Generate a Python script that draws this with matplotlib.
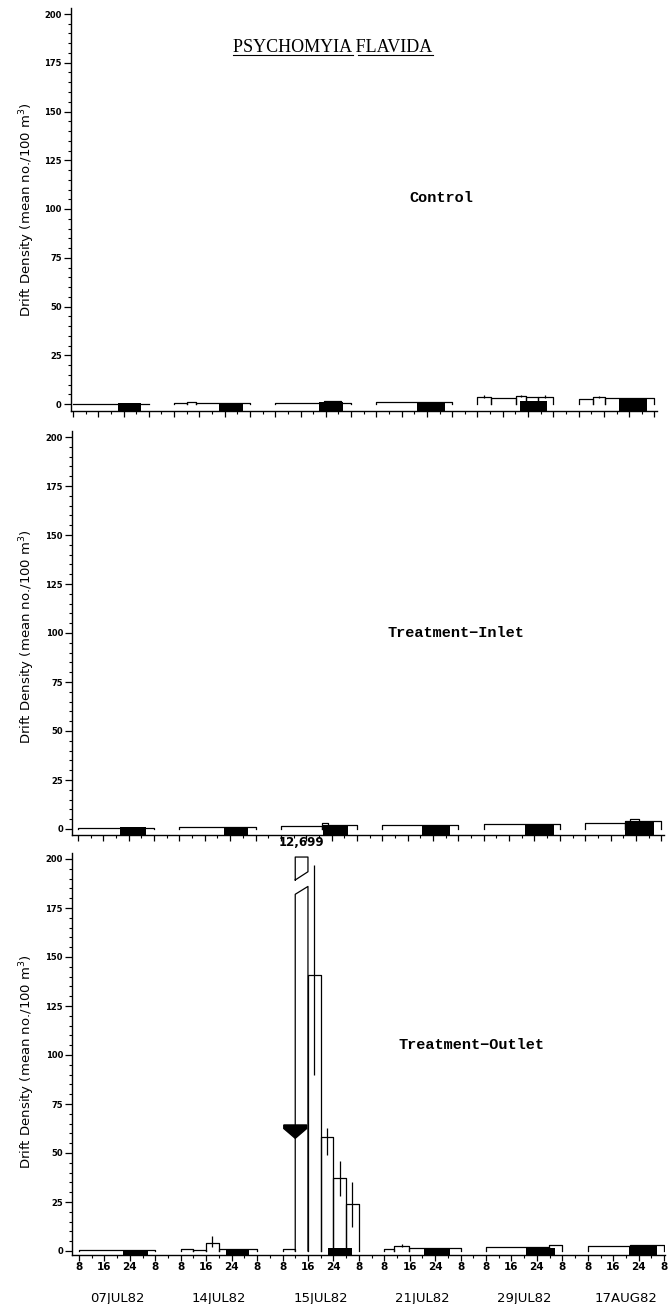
import matplotlib
matplotlib.use("Agg")
import matplotlib.pyplot as plt
from matplotlib.patches import Polygon
from matplotlib.lines import Line2D
from matplotlib.ticker import FixedLocator, MultipleLocator, NullFormatter

W, H = 670, 1304

DATES = ["07JUL82", "14JUL82", "15JUL82", "21JUL82", "29JUL82", "17AUG82"]
BLOCK_SPAN = 32            # 24 h sampled (08:00 -> 08:00) + 8 h gap on the axis
HOUR_TICKS = [0, 8, 16, 24]
HOUR_LABELS = ["8", "16", "24", "8"]
YMAX = 200

# ── step intervals (hours after 08:00) and mean drift density ─────────────
CONTROL_EDGES = [[0, 24], [0, 4, 7, 24], [0, 15.5, 20.8, 24], [0, 24],
                 [0, 4.4, 12.3, 15.5, 19, 24], [0, 4.5, 8.5, 24]]
CONTROL_VALUES = [[0.2], [0.6, 1.0, 0.6], [0.7, 1.7, 0.7], [1.0],
                  [3.8, 2.9, 4.1, 3.4, 3.8], [2.4, 3.4, 2.9]]
CONTROL_NIGHT = [(14.2, 21.5, 0.3), (14.2, 21.8, 0.4), (14.0, 21.5, 1.0),
                 (13.0, 21.8, 1.2), (13.3, 22.0, 1.7), (12.7, 21.8, 2.9)]
CONTROL_ERR = [(4, 2.2, 3.2, 4.4), (4, 13.9, 3.6, 4.6), (4, 21.4, 3.2, 4.4),
               (5, 6.5, 2.9, 3.9)]

INLET_EDGES = [[0, 24], [0, 24], [0, 13, 15, 24], [0, 24], [0, 24],
               [0, 12.5, 14, 17, 24]]
INLET_VALUES = [[0.3], [1.2], [1.6, 3.0, 2.0], [2.2], [2.8],
                [3.2, 4.0, 5.0, 4.0]]
INLET_NIGHT = [(13.4, 21.3, 0.8), (13.9, 21.5, 1.2), (13.2, 21.1, 2.0),
               (12.6, 21.5, 2.0), (12.9, 22.0, 2.8), (12.5, 21.8, 4.0)]
INLET_ERR = []

OUTLET_EDGES = [[0, 24], [0, 3.8, 7.8, 12, 24], [0, 4, 8, 12, 16, 20, 24],
                [0, 3, 7.8, 24], [0, 19.8, 24], [0, 13.2, 24]]
OUTLET_VALUES = [[0.3], [1.2, 0.7, 4.3, 1.2], [1.2, 12699, 141, 58, 37, 24],
                 [1.2, 2.6, 1.5], [2.0, 2.9], [2.4, 2.9]]
OUTLET_NIGHT = [(13.8, 21.7, 0.3), (14.1, 21.5, 0.7), (14.2, 21.7, 1.5),
                (12.4, 20.8, 1.5), (12.5, 21.7, 1.7), (13.0, 21.7, 2.4)]
OUTLET_ERR = [(1, 9.9, 2.0, 7.5), (2, 10, 90, 197), (2, 14, 49, 63),
              (2, 18, 28, 46), (2, 22, 12, 35), (3, 5.5, 1.8, 3.4)]
OUTLET_ARROW = (2, 4.0, 57.5)   # block, hour, level of the treatment arrow

PANELS = [
    ("Control", CONTROL_EDGES, CONTROL_VALUES, CONTROL_NIGHT, CONTROL_ERR, None),
    ("Treatment\u2212Inlet", INLET_EDGES, INLET_VALUES, INLET_NIGHT, INLET_ERR, None),
    ("Treatment\u2212Outlet", OUTLET_EDGES, OUTLET_VALUES, OUTLET_NIGHT, OUTLET_ERR, OUTLET_ARROW),
]

# ── pixel geometry of the three scanned panels ───────────────────────────
# y0 px, y200 px, ylim bottom, hour-0 px, px per hour, spine px, right px
GEOM = [
    (404, 14, -3.8, 73, 3.16, 70.7, 657),
    (829, 437, -3.0, 78, 3.17, 72, 664),
    (1251, 859, -2.2, 79, 3.18, 72, 665),
]
LABEL_POS = [(441, 198), (456, 633), (472, 1045)]
YLABEL_POS = [(27, 210), (27, 637), (27, 1062)]
YTOP = 203

fig = plt.figure(figsize=(W / 100, H / 100), dpi=100)
fig.patch.set_facecolor("white")

axes = []
for k, (name, edges, values, night, errs, arrow) in enumerate(PANELS):
    y0, y200, ybot, h0, pph, left, right = GEOM[k]
    ppu = (y0 - y200) / YMAX
    top_px = y200 - (YTOP - YMAX) * ppu
    bot_px = y0 - ybot * ppu
    ax = fig.add_axes([left / W, 1 - bot_px / H, (right - left) / W, (bot_px - top_px) / H])
    ax.set_xlim((left - h0) / pph, (right - h0) / pph)
    ax.set_ylim(ybot, YTOP)

    for b in range(len(DATES)):
        off = b * BLOCK_SPAN
        # night period (filled)
        ns, ne, ntop = night[b]
        ax.bar(off + ns, ntop - ybot, bottom=ybot, width=ne - ns, align="edge",
               color="black", linewidth=0, zorder=2)
        # open histogram of drift density
        e = edges[b]
        for i, v in enumerate(values[b]):
            x0, x1 = off + e[i], off + e[i + 1]
            if v > YMAX:
                ax.plot([x0, x0, x1, x1], [0, 182, 186, 0], color="black", lw=0.9, zorder=3)
                ax.plot([x0, x0, x1, x1, x0], [189.3, 201, 201, 193.5, 189.3],
                        color="black", lw=0.9, zorder=3, clip_on=False)
                ax.text((x0 + x1) / 2, 205, f"{v:,}", ha="center", va="bottom",
                        fontsize=8.5, fontweight="bold", clip_on=False)
            else:
                ax.plot([x0, x0, x1, x1], [0, v, v, 0], color="black", lw=0.9, zorder=3)

    for b, hr, lo, hi in errs:
        ax.vlines(b * BLOCK_SPAN + hr, lo, hi, color="black", lw=0.9, zorder=3)

    if arrow is not None:
        b, hr, lvl = arrow
        xc = b * BLOCK_SPAN + hr
        ax.add_patch(Polygon([(xc - 3.6, lvl + 6.8), (xc + 3.6, lvl + 6.8), (xc + 3.6, lvl + 5.0),
                              (xc, lvl), (xc - 3.6, lvl + 5.0)],
                             closed=True, color="black", zorder=4))

    # axes styling
    for s in ("top", "right"):
        ax.spines[s].set_visible(False)
    for s in ("left", "bottom"):
        ax.spines[s].set_linewidth(1.0)

    ax.yaxis.set_major_locator(FixedLocator(range(0, YMAX + 1, 25)))
    ax.yaxis.set_minor_locator(MultipleLocator(5))
    ax.tick_params(axis="y", which="major", direction="out", length=5, width=0.9,
                   pad=1.5, labelsize=6)
    ax.tick_params(axis="y", which="minor", direction="out", length=2.5, width=0.8)
    for lab in ax.get_yticklabels():
        lab.set_fontweight("bold")

    major_x = [b * BLOCK_SPAN + h for b in range(len(DATES)) for h in HOUR_TICKS]
    ax.xaxis.set_major_locator(FixedLocator(major_x))
    ax.xaxis.set_minor_locator(MultipleLocator(4))
    ax.tick_params(axis="x", which="major", direction="out", length=4, width=0.9, pad=0.5)
    ax.tick_params(axis="x", which="minor", direction="out", length=2, width=0.8)
    if k == len(PANELS) - 1:
        ax.set_xticklabels(HOUR_LABELS * len(DATES), fontsize=7.5, fontweight="bold")
        for b, d in enumerate(DATES):
            ax.annotate(d, xy=(b * BLOCK_SPAN + 12, 0), xycoords=("data", "axes fraction"),
                        xytext=(0, -31), textcoords="offset points",
                        ha="center", va="center", fontsize=9.5)
    else:
        ax.xaxis.set_major_formatter(NullFormatter())

    lx, ly = LABEL_POS[k]
    fig.text(lx / W, 1 - ly / H, name, ha="center", va="center", fontsize=11,
             fontweight="bold", family=["Liberation Mono", "DejaVu Sans Mono"])
    yx, yy = YLABEL_POS[k]
    fig.text(yx / W, 1 - yy / H, "Drift Density (mean no./100 m$^3$)", rotation=90,
             ha="center", va="center", fontsize=9.5)
    axes.append(ax)

# title with underlined words
title = fig.text(333 / W, 1 - 52.5 / H, "PSYCHOMYIA FLAVIDA", ha="center", va="baseline",
                 fontsize=13, family=["Liberation Serif", "DejaVu Serif"])
fig.canvas.draw()
renderer = fig.canvas.get_renderer()
bb = title.get_window_extent(renderer)
tmp = fig.text(0, 0, "PSYCHOMYIA", fontsize=13, family=["Liberation Serif", "DejaVu Serif"])
w1 = tmp.get_window_extent(renderer).width
tmp.set_text("PSYCHOMYIA ")
w1s = tmp.get_window_extent(renderer).width
tmp.remove()
uy = (1 - 55 / H)
for xa, xb in [(bb.x0, bb.x0 + w1), (bb.x0 + w1s + 2, bb.x1)]:
    fig.add_artist(Line2D([xa / W, xb / W], [uy, uy], transform=fig.transFigure,
                          color="black", lw=0.8))

fig.savefig("out.png", dpi=100)
